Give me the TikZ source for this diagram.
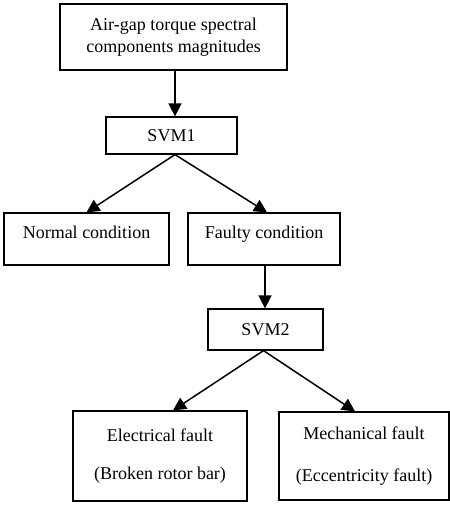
\documentclass[tikz,border=0pt]{standalone}
\usepackage{fontspec}
\setmainfont{Liberation Serif}
\usetikzlibrary{arrows.meta}
\begin{document}
\begin{tikzpicture}[x=1pt,y=1pt,
    box/.style={draw,line width=1.2pt,inner sep=0pt,align=center,font=\fontsize{18}{22.5}\selectfont},
    flow/.style={-{Triangle[length=13pt,width=13pt]},line width=1.5pt}]
    \useasboundingbox (0,0) rectangle (449,-513);
    % boxes
    \node[box,minimum width=227pt,minimum height=66pt] (torque) at (173.5,-37) {Air-gap torque spectral\\components magnitudes};
    \node[box,minimum width=131pt,minimum height=37pt] (svm1) at (171.5,-135.5) {SVM1};
    \node[box,minimum width=165pt,text height=25pt,text depth=27pt] (normal) at (86.5,-239) {Normal condition};
    \node[box,minimum width=152pt,text height=25pt,text depth=27pt] (faulty) at (264,-239) {Faulty condition};
    \node[box,minimum width=115pt,minimum height=41pt] (svm2) at (265.5,-329.5) {SVM2};
    \node[box,minimum width=174pt,minimum height=90pt] (electrical) at (160,-456) {Electrical fault\\[16pt](Broken rotor bar)};
    \node[box,minimum width=170pt,minimum height=88pt] (mechanical) at (364,-456) {Mechanical fault\\[20pt](Eccentricity fault)};
    % arrows
    \draw[flow] ([xshift=1.5pt]torque.south) -- ([xshift=3.5pt]svm1.north);
    \draw[flow] ([xshift=3.5pt]svm1.south) -- (normal.north);
    \draw[flow] ([xshift=3.5pt]svm1.south) -- ([xshift=3pt]faulty.north);
    \draw[flow] ([xshift=1pt]faulty.south) -- ([xshift=-0.5pt]svm2.north);
    \draw[flow] ([xshift=-2pt]svm2.south) -- ([xshift=13pt]electrical.north);
    \draw[flow] ([xshift=-2pt]svm2.south) -- ([xshift=-9pt]mechanical.north);
\end{tikzpicture}
\end{document}
